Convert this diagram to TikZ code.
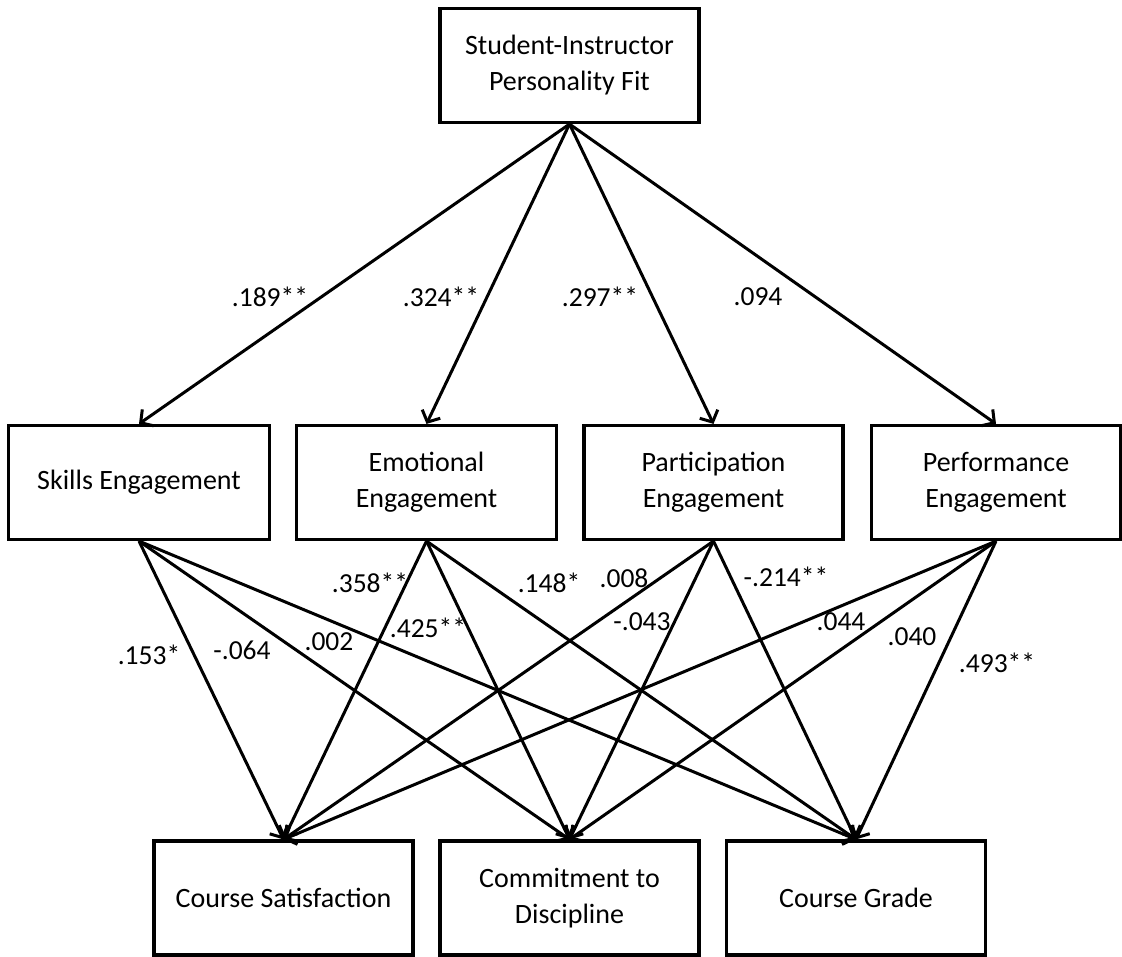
\documentclass[tikz,border=0pt]{standalone}
\usepackage{fontspec}
\setmainfont{Carlito}
\usetikzlibrary{arrows.meta}
\begin{document}
\begin{tikzpicture}[x=1pt,y=-1pt,
  box/.style={draw, line width=3.2pt, minimum height=114pt, align=center, inner sep=0pt,
    font=\fontsize{28}{36}\selectfont},
  conn/.style={line width=3pt, -{Straight Barb[length=9pt,width=20pt,line width=3pt]}},
  coef/.style={font=\fontsize{27.5}{33}\selectfont, inner sep=0pt}]
\useasboundingbox (0,0) rectangle (1122,956);
\node[box, minimum width=259pt] (fit) at (569.5,65.5) {Student-Instructor\\Personality Fit};
\node[box, minimum width=261pt] (skills) at (139,482.5) {Skills Engagement};
\node[box, minimum width=260pt] (emo) at (426.5,482.5) {Emotional\\Engagement};
\node[box, minimum width=259pt] (part) at (713.5,482.5) {Participation\\Engagement};
\node[box, minimum width=249pt] (perf) at (996,482.5) {Performance\\Engagement};
\node[box, minimum width=259pt] (sat) at (283.5,898) {Course Satisfaction};
\node[box, minimum width=259pt] (com) at (569.5,898) {Commitment to\\Discipline};
\node[box, minimum width=259pt] (grade) at (856,898) {Course Grade};

\draw[conn] (fit.south) -- (skills.north);
\draw[conn] (fit.south) -- (emo.north);
\draw[conn] (fit.south) -- (part.north);
\draw[conn] (fit.south) -- (perf.north);

\foreach \s in {skills,emo,part,perf}{
  \foreach \t in {sat,com,grade}{
    \draw[conn] (\s.south) -- (\t.north);
  }
}

\node[coef] (c1) at (270,297) {.189**};
\node[coef] (c2) at (441,297) {.324**};
\node[coef] (c3) at (600,297) {.297**};
\node[coef] (c4) at (758,297) {.094};

\node[coef] (d1) at (149,655) {.153*};
\node[coef] (d2) at (242,650) {-.064};
\node[coef] (d3) at (329,642) {.002};
\node[coef] (d4) at (370,583) {.358**};
\node[coef] (d5) at (428,628) {.425**};
\node[coef] (d6) at (549,583) {.148*};
\node[coef] (d7) at (624,578) {.008};
\node[coef] (d8) at (642,622) {-.043};
\node[coef] (d9) at (786,577) {-.214**};
\node[coef] (d10) at (841,622) {.044};
\node[coef] (d11) at (912,637) {.040};
\node[coef] (d12) at (997,663) {.493**};
\end{tikzpicture}
\end{document}
